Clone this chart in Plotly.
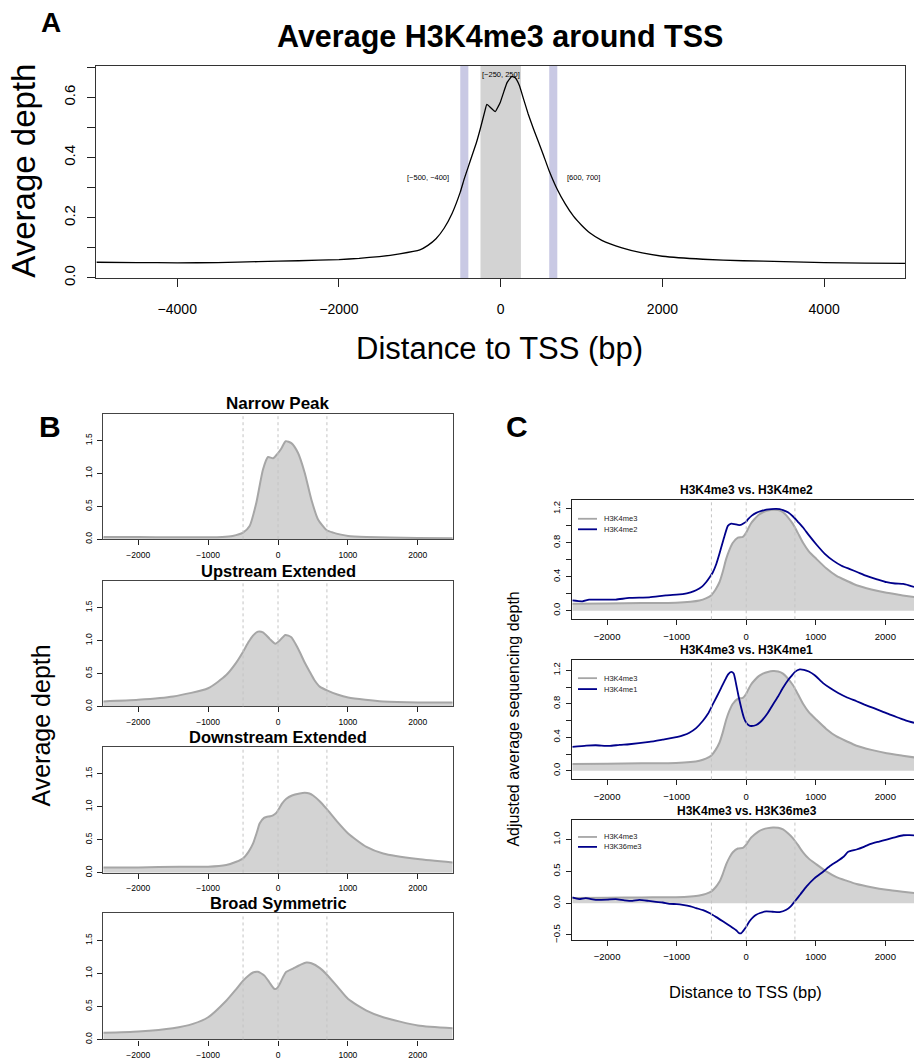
import plotly.graph_objects as go

# ---------------- data ----------------
# Panel A: average H3K4me3 around TSS
a_x = [-5000, -4500, -4000, -3500, -3000, -2500, -2000, -1750, -1500, -1250, -1000, -900, -800, -700,
       -600, -500, -450, -400, -350, -300, -253, -200, -171, -120, -68, -30, -6, 40, 80, 138, 180,
       230, 282, 340, 406, 470, 530, 600, 694, 800, 900, 1000, 1100, 1250, 1500, 1750, 2000, 2500,
       3000, 3500, 4000, 4500, 5000]
a_y = [0.052, 0.051, 0.050, 0.051, 0.054, 0.057, 0.061, 0.065, 0.071, 0.080, 0.093, 0.108, 0.13, 0.165,
       0.215, 0.285, 0.33, 0.37, 0.41, 0.45, 0.495, 0.55, 0.577, 0.565, 0.553, 0.57, 0.583, 0.62, 0.65,
       0.670, 0.665, 0.64, 0.595, 0.545, 0.495, 0.45, 0.407, 0.355, 0.297, 0.245, 0.205, 0.175, 0.15,
       0.125, 0.10, 0.083, 0.072, 0.062, 0.057, 0.054, 0.051, 0.049, 0.048]
core_band = (-250, 250)
side_bands = [(-500, -400), (600, 700)]
core_label = "[\u2212250, 250]"
side_labels = ["[\u2212500, \u2212400]", "[600, 700]"]

# Panel B: four peak shape classes
b_titles = ["Narrow Peak", "Upstream Extended", "Downstream Extended", "Broad Symmetric"]
narrow_x = [-2500, -2000, -1500, -1000, -800, -650, -500, -406, -311, -215, -143, -72, 0, 48, 110, 191,
            287, 382, 478, 573, 693, 789, 900, 1004, 1266, 1600, 2000, 2500]
narrow_y = [0.035, 0.033, 0.03, 0.03, 0.035, 0.05, 0.10, 0.20, 0.55, 1.06, 1.25, 1.23, 1.31, 1.38, 1.49,
            1.46, 1.31, 1.01, 0.60, 0.30, 0.14, 0.10, 0.07, 0.05, 0.035, 0.025, 0.018, 0.015]
upstream_x = [-2500, -2000, -1500, -1000, -741, -600, -502, -420, -358, -287, -215, -119, -38, 24, 105,
              191, 250, 311, 380, 454, 520, 597, 717, 850, 1004, 1250, 1505, 2002, 2500]
upstream_y = [0.075, 0.10, 0.15, 0.275, 0.475, 0.66, 0.825, 0.98, 1.075, 1.135, 1.125, 1.025, 0.95, 1.0,
              1.085, 1.05, 0.95, 0.825, 0.67, 0.525, 0.40, 0.30, 0.235, 0.18, 0.135, 0.10, 0.075, 0.06, 0.06]
downstream_x = [-2500, -2000, -1410, -1000, -741, -597, -502, -420, -358, -300, -263, -200, -167, -110, -72,
                -30, 0, 60, 119, 200, 311, 382, 450, 502, 600, 693, 850, 1004, 1266, 1505, 2002, 2500]
downstream_y = [0.08, 0.08, 0.09, 0.09, 0.116, 0.166, 0.216, 0.32, 0.44, 0.62, 0.745, 0.83, 0.845, 0.855,
                0.87, 0.90, 0.946, 1.05, 1.12, 1.17, 1.2, 1.21, 1.2, 1.17, 1.08, 0.97, 0.77, 0.594, 0.39,
                0.29, 0.206, 0.156]
broad_x = [-2500, -2000, -1505, -1218, -1000, -741, -600, -502, -420, -358, -287, -191, -140, -96, -48, -10,
           24, 70, 119, 215, 300, 406, 478, 600, 693, 850, 1004, 1266, 1505, 2002, 2500]
broad_y = [0.10, 0.12, 0.17, 0.236, 0.336, 0.587, 0.76, 0.888, 0.97, 1.014, 1.024, 0.963, 0.89, 0.823,
           0.763, 0.78, 0.838, 0.94, 1.024, 1.074, 1.12, 1.164, 1.154, 1.08, 0.988, 0.80, 0.612, 0.437,
           0.336, 0.211, 0.17]
guide_x = [-500, 0, 700]

# Panel C: H3K4me3 compared with other marks
k4me3_x = [-2500, -2000, -1500, -1009, -800, -673, -580, -505, -440, -385, -340, -288, -240, -192, -120,
           -48, 0, 24, 70, 120, 180, 240, 310, 385, 460, 529, 600, 673, 740, 817, 900, 1009, 1150, 1298,
           1450, 1586, 1800, 2019, 2250, 2500]
k4me3_y = [0.082, 0.085, 0.09, 0.094, 0.105, 0.12, 0.145, 0.18, 0.25, 0.335, 0.45, 0.61, 0.72, 0.80, 0.86,
           0.87, 0.92, 0.96, 1.03, 1.08, 1.13, 1.16, 1.18, 1.19, 1.185, 1.16, 1.10, 1.02, 0.92, 0.80, 0.70,
           0.61, 0.50, 0.41, 0.35, 0.30, 0.25, 0.21, 0.18, 0.15]
k4me2_x = [-2500, -2355, -2259, -2100, -1875, -1682, -1394, -1154, -913, -800, -721, -640, -577, -520, -481,
           -430, -385, -340, -312, -264, -216, -170, -120, -80, -48, 0, 24, 80, 144, 220, 288, 360, 433,
           480, 529, 600, 673, 740, 817, 900, 1009, 1130, 1250, 1370, 1490, 1610, 1730, 1880, 2019, 2140,
           2259, 2350, 2413]
k4me2_y = [0.12, 0.11, 0.13, 0.13, 0.13, 0.15, 0.156, 0.18, 0.195, 0.215, 0.24, 0.28, 0.335, 0.40, 0.45,
           0.55, 0.67, 0.80, 0.88, 1.0, 1.025, 1.02, 1.01, 1.01, 1.025, 1.05, 1.075, 1.12, 1.153, 1.175,
           1.19, 1.198, 1.20, 1.197, 1.185, 1.16, 1.11, 1.05, 0.98, 0.89, 0.78, 0.67, 0.59, 0.53, 0.49,
           0.45, 0.41, 0.37, 0.335, 0.32, 0.315, 0.295, 0.28]
k4me1_x = [-2500, -2300, -2163, -1970, -1820, -1682, -1394, -1202, -985, -900, -817, -720, -625, -550, -481,
           -420, -360, -300, -260, -216, -180, -144, -110, -72, -36, 0, 36, 72, 144, 200, 240, 310, 385,
           460, 529, 600, 649, 700, 769, 830, 900, 985, 1105, 1200, 1322, 1450, 1586, 1700, 1826, 1950,
           2067, 2200, 2300, 2413]
k4me1_y = [0.285, 0.30, 0.305, 0.297, 0.31, 0.317, 0.345, 0.372, 0.404, 0.425, 0.455, 0.51, 0.594, 0.68,
           0.792, 0.89, 0.99, 1.09, 1.15, 1.18, 1.16, 1.03, 0.89, 0.752, 0.64, 0.574, 0.545, 0.535, 0.547,
           0.58, 0.614, 0.69, 0.792, 0.89, 0.99, 1.08, 1.13, 1.18, 1.21, 1.205, 1.185, 1.14, 1.046, 0.99,
           0.928, 0.875, 0.83, 0.79, 0.75, 0.71, 0.67, 0.63, 0.60, 0.573]
k36me3_x = [-2500, -2403, -2307, -2163, -2000, -1875, -1750, -1634, -1538, -1400, -1298, -1200, -1105, -1000,
            -913, -800, -721, -620, -529, -430, -336, -260, -192, -140, -106, -75, -48, 0, 48, 100, 144,
            200, 288, 380, 481, 577, 640, 697, 780, 865, 980, 1105, 1200, 1298, 1400, 1466, 1586, 1700,
            1778, 1900, 2019, 2150, 2259, 2350, 2413]
k36me3_y = [0.089, 0.0625, 0.078, 0.052, 0.055, 0.0625, 0.045, 0.036, 0.052, 0.035, 0.021, 0.01, -0.01,
            -0.015, -0.026, -0.05, -0.078, -0.11, -0.156, -0.22, -0.286, -0.34, -0.39, -0.43, -0.469,
            -0.475, -0.443, -0.37, -0.286, -0.22, -0.182, -0.155, -0.13, -0.135, -0.14, -0.104, -0.05,
            0.026, 0.14, 0.26, 0.39, 0.495, 0.58, 0.651, 0.73, 0.807, 0.844, 0.89, 0.927, 0.965, 1.0,
            1.04, 1.068, 1.07, 1.065]
c_titles = ["H3K4me3 vs. H3K4me2", "H3K4me3 vs. H3K4me1", "H3K4me3 vs. H3K36me3"]
c_names = ["H3K4me2", "H3K4me1", "H3K36me3"]

# ---------------- styling / layout helpers ----------------
W, H = 914, 1064
FONT = "Liberation Sans, Arial, Helvetica, sans-serif"
GRAY_FILL = "#d3d3d3"
GRAY_LINE = "#a6a6a6"
BLUE = "#00008B"
BAND = "#c9c9e4"
GUIDE = "#c4c4c4"


def fx(p):
    return p / W


def fy(p):
    return 1 - p / H


fig = go.Figure()
ann = []
shapes = []


def label(px, py, text, size, angle=0, xanchor="center", color="black"):
    ann.append(dict(x=fx(px), y=fy(py), xref="paper", yref="paper", text=text, textangle=angle,
                    xanchor=xanchor, yanchor="middle", showarrow=False,
                    font=dict(size=size, color=color, family=FONT)))


# ---- Panel A ----
fig.add_trace(go.Scatter(x=a_x, y=a_y, mode="lines", xaxis="x", yaxis="y",
                         line=dict(color="black", width=1.3, shape="spline", smoothing=0.4),
                         showlegend=False, hoverinfo="skip"))
shapes.append(dict(type="rect", xref="x", yref="y domain", x0=core_band[0], x1=core_band[1], y0=0, y1=1,
                   fillcolor=GRAY_FILL, line=dict(width=0), layer="below"))
for b0, b1 in side_bands:
    shapes.append(dict(type="rect", xref="x", yref="y domain", x0=b0, x1=b1, y0=0, y1=1,
                       fillcolor=BAND, line=dict(width=0), layer="below"))
small_font = dict(size=7.5, color="black", family=FONT)
ann.append(dict(x=(core_band[0] + core_band[1]) / 2, y=0.676, xref="x", yref="y", text=core_label,
                xanchor="center", yanchor="middle", showarrow=False, font=small_font))
ann.append(dict(x=side_bands[0][0], y=0.335, xref="x", yref="y", text=side_labels[0], xanchor="right",
                yanchor="middle", xshift=-9, showarrow=False, font=small_font))
ann.append(dict(x=side_bands[1][1], y=0.335, xref="x", yref="y", text=side_labels[1], xanchor="left",
                yanchor="middle", xshift=8, showarrow=False, font=small_font))

axis_common = dict(showgrid=False, zeroline=False, showline=True, ticks="outside", tickwidth=1,
                   tickcolor="#222", linecolor="#333", linewidth=1.2)

layout = dict(
    width=W, height=H, margin=dict(l=0, r=0, t=0, b=0),
    paper_bgcolor="white", plot_bgcolor="white", showlegend=False,
    font=dict(family=FONT, color="black"),
)
layout["xaxis"] = dict(axis_common, domain=[fx(96.4), fx(905)], range=[-5000, 5000], anchor="y",
                       mirror=True, tickvals=[-4000, -2000, 0, 2000, 4000], ticklen=8,
                       tickfont=dict(size=14), ticklabelstandoff=10)
layout["yaxis"] = dict(axis_common, domain=[fy(280), fy(66)], range=[0, 0.706], anchor="x", mirror=True,
                       tickvals=[0, 0.1, 0.2, 0.3, 0.4, 0.5, 0.6, 0.7],
                       ticktext=["0.0", "", "0.2", "", "0.4", "", "0.6", ""], ticklen=8,
                       tickfont=dict(size=15), tickangle=-90, ticklabelstandoff=6)
label(500, 37, "<b>Average H3K4me3 around TSS</b>", 30.5)
label(500, 351, "Distance to TSS (bp)", 31)
label(24, 172, "Average depth", 33, angle=-90)
label(51, 23, "<b>A</b>", 28)

# ---- Panel B ----
b_series = [(narrow_x, narrow_y), (upstream_x, upstream_y), (downstream_x, downstream_y), (broad_x, broad_y)]
b_tops = [416.7, 585.0, 752.3, 920.3]
b_bottoms = [543.3, 711.7, 879.3, 1047.3]
b_title_sizes = [17, 16.5, 16.5, 16.5]
for i, ((bx, by), top, bot, title) in enumerate(zip(b_series, b_tops, b_bottoms, b_titles)):
    n = i + 2
    xa, ya = f"x{n}", f"y{n}"
    fig.add_trace(go.Scatter(x=bx, y=by, mode="lines", xaxis=xa, yaxis=ya, fill="tozeroy",
                             fillcolor=GRAY_FILL, line=dict(color=GRAY_LINE, width=2, shape="spline",
                                                            smoothing=0.6),
                             showlegend=False, hoverinfo="skip"))
    layout[f"xaxis{n}"] = dict(axis_common, domain=[fx(103.3), fx(452.7)], range=[-2500, 2500], anchor=ya,
                               mirror=True, tickvals=[-2000, -1000, 0, 1000, 2000], ticklen=5,
                               tickfont=dict(size=8.5), ticklabelstandoff=2, linecolor="#444")
    layout[f"yaxis{n}"] = dict(axis_common, domain=[fy(bot), fy(top)], range=[0, 1.91], anchor=xa,
                               mirror=True, tickvals=[0, 0.5, 1.0, 1.5], ticktext=["0.0", "0.5", "1.0", "1.5"],
                               ticklen=5, tickfont=dict(size=8.5), tickangle=-90, ticklabelstandoff=2,
                               linecolor="#444")
    for gx in guide_x:
        shapes.append(dict(type="line", xref=xa, yref=f"{ya} domain", x0=gx, x1=gx, y0=0, y1=1,
                           line=dict(color=GUIDE, width=1, dash="3px,3px"), layer="above"))
    label(278.3, top - 10, f"<b>{title}</b>", b_title_sizes[i])
label(41, 731, "Average depth", 25, angle=-90)
label(50, 430, "<b>B</b>", 30)

# ---- Panel C ----
c_series = [(k4me2_x, k4me2_y), (k4me1_x, k4me1_y), (k36me3_x, k36me3_y)]
c_tops = [504.0, 665.0, 826.7]
c_bottoms = [624.0, 785.3, 946.7]
c_ranges = [[-0.102, 1.302], [-0.102, 1.322], [-0.573, 1.30]]
c_ticks = [([0, 0.2, 0.4, 0.6, 0.8, 1.0, 1.2], ["0.0", "", "0.4", "", "0.8", "", "1.2"]),
           ([0, 0.2, 0.4, 0.6, 0.8, 1.0, 1.2], ["0.0", "", "0.4", "", "0.8", "", "1.2"]),
           ([-0.5, 0, 0.5, 1.0], ["\u22120.5", "0.0", "0.5", "1.0"])]
c_legend_off = [(18.7, 29.3), (18.3, 29.3), (16.6, 26.6)]
for i, ((cx, cy), top, bot, rng, (tv, tt), title, name, loff) in enumerate(
        zip(c_series, c_tops, c_bottoms, c_ranges, c_ticks, c_titles, c_names, c_legend_off)):
    n = i + 6
    xa, ya = f"x{n}", f"y{n}"
    fig.add_trace(go.Scatter(x=k4me3_x, y=k4me3_y, mode="lines", xaxis=xa, yaxis=ya, fill="tozeroy",
                             fillcolor=GRAY_FILL, name="H3K4me3",
                             line=dict(color=GRAY_LINE, width=2, shape="spline", smoothing=0.6),
                             showlegend=False, hoverinfo="skip"))
    fig.add_trace(go.Scatter(x=cx, y=cy, mode="lines", xaxis=xa, yaxis=ya, name=name,
                             line=dict(color=BLUE, width=1.8, shape="spline", smoothing=0.5),
                             showlegend=False, hoverinfo="skip"))
    layout[f"xaxis{n}"] = dict(axis_common, domain=[fx(572.3), 1.0], range=[-2500, 2412], anchor=ya,
                               mirror=True, tickvals=[-2000, -1000, 0, 1000, 2000], ticklen=5,
                               tickfont=dict(size=9.5), ticklabelstandoff=3, linecolor="#222")
    layout[f"yaxis{n}"] = dict(axis_common, domain=[fy(bot), fy(top)], range=rng, anchor=xa,
                               mirror=False, tickvals=tv, ticktext=tt, ticklen=5, tickfont=dict(size=9.5),
                               tickangle=-90, ticklabelstandoff=2, linecolor="#222")
    for gx in guide_x:
        shapes.append(dict(type="line", xref=xa, yref=f"{ya} domain", x0=gx, x1=gx, y0=0, y1=1,
                           line=dict(color=GUIDE, width=1, dash="3px,3px"), layer="above"))
    label(746.7, top - 10, f"<b>{title}</b>", 12)
    # legend
    for (lab, col), off in zip([("H3K4me3", GRAY_LINE), (name, BLUE)], loff):
        shapes.append(dict(type="line", xref="paper", yref="paper", x0=fx(578), x1=fx(597),
                           y0=fy(top + off), y1=fy(top + off), line=dict(color=col, width=1.8)))
        label(602, top + off, lab, 7.5, xanchor="left", color="#222")

label(514, 725, "Adjusted average sequencing depth", 16, angle=-90)
label(745, 1000, "Distance to TSS (bp)", 16.5)
label(517, 430, "<b>C</b>", 30)

layout["annotations"] = ann
layout["shapes"] = shapes
fig.update_layout(layout)
fig.write_html("out.html", config={"displayModeBar": False},
               post_script="document.body.style.margin='0';document.body.style.overflow='hidden';")
